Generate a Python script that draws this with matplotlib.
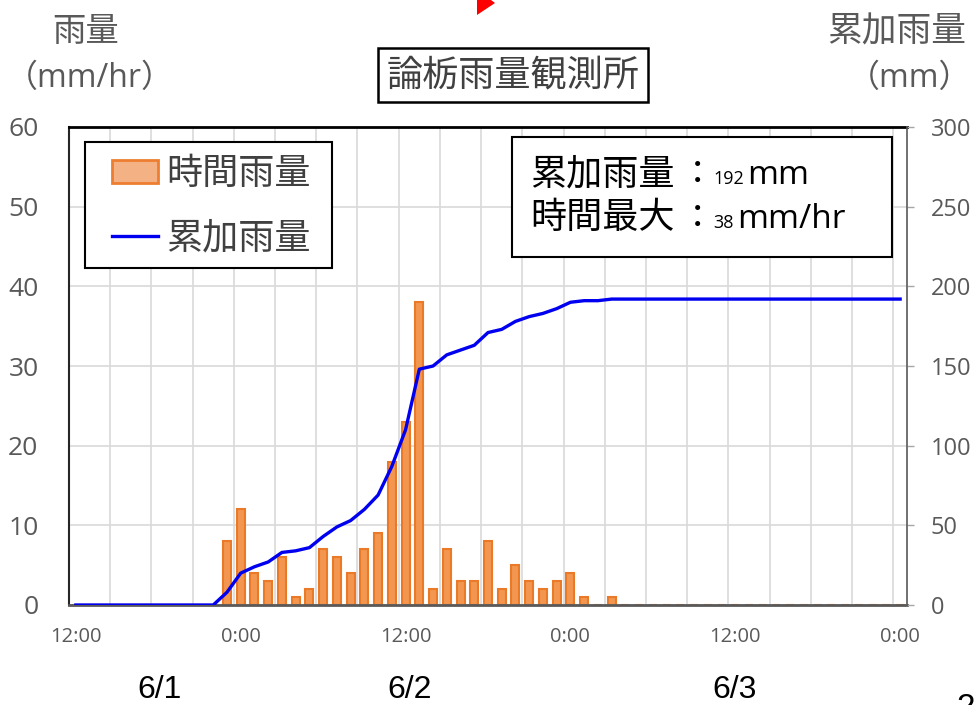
import numpy as np
import matplotlib
matplotlib.use("Agg")
import matplotlib.pyplot as plt
from matplotlib.patches import Rectangle, Polygon, Patch

plt.rcParams['font.family'] = ['Noto Sans CJK JP', 'DejaVu Sans']

# hourly data, hour 0 = 6/1 12:00 ... hour 60 = 6/4 0:00
rain_hourly = [
    0, 0, 0, 0, 0, 0, 0, 0, 0, 0, 0,           # 6/1 12:00 - 22:00
    8, 12, 4, 3, 6, 1, 2, 7, 6, 4, 7, 9,       # 23:00 - 10:00
    18, 23, 38, 2, 7, 3, 3, 8, 2, 5, 3, 2,     # 11:00 - 22:00
    3, 4, 1, 0, 1,                             # 23:00 - 3:00
    0, 0, 0, 0, 0, 0, 0, 0, 0, 0, 0, 0, 0, 0, 0, 0, 0, 0, 0, 0, 0,
]
hours = np.arange(len(rain_hourly))
rain_total = np.cumsum(rain_hourly)

xtick_pos = [0, 12, 24, 36, 48, 60]
xtick_labels = ["12:00", "0:00", "12:00", "0:00", "12:00", "0:00"]
date_labels = ["6/1", "6/2", "6/3"]
date_label_x = [160, 410, 735]   # pixel centres

W, H = 976, 705
gray = "#595959"
latin = ["Open Sans", "Noto Sans CJK JP", "DejaVu Sans"]


def fx(x):
    return x / W


def fy(y):
    return 1 - y / H


fig = plt.figure(figsize=(W / 100, H / 100), dpi=100)
ax = fig.add_axes([fx(69), fy(605), fx(907) - fx(69), fy(127) - fy(605)])
ax2 = ax.twinx()

bars = ax.bar(hours, rain_hourly, width=0.58, color="#F29650",
              edgecolor="#EB7A28", linewidth=1.5, zorder=2)
line, = ax2.plot(hours, rain_total, color="#0000F0", linewidth=2.4,
                 label="累加雨量", zorder=3)

ax.set_xlim(-0.5, 60.5)
ax.set_ylim(0, 60)
ax2.set_ylim(0, 300)
ax.set_yticks(range(0, 61, 10))
ax2.set_yticks(range(0, 301, 50))
ax.set_xticks(xtick_pos)
ax.set_xticklabels(xtick_labels)
ax.set_xticks(np.arange(2.5, 60, 3), minor=True)

ax.set_axisbelow(True)
ax.grid(axis="y", which="major", color="#D9D9D9", linewidth=1.2)
ax.grid(axis="x", which="minor", color="#D9D9D9", linewidth=1.2)

ax.tick_params(axis="x", which="both", length=0, pad=16, labelsize=14.5,
               labelcolor=gray)
ax.tick_params(axis="y", length=0, pad=22, labelsize=19, labelcolor=gray)
ax2.tick_params(axis="y", length=5, width=1, color="#A6A6A6", pad=12,
                labelsize=17, labelcolor=gray)
for lab in ax.get_xticklabels() + ax.get_yticklabels() + ax2.get_yticklabels():
    lab.set_family(latin)

for a in (ax, ax2):
    for s in a.spines.values():
        s.set_visible(False)
ax.spines["top"].set_visible(True)
ax.spines["top"].set_color("black")
ax.spines["top"].set_linewidth(2)
ax.spines["left"].set_visible(True)
ax.spines["left"].set_color("#262626")
ax.spines["left"].set_linewidth(1.5)
ax.spines["bottom"].set_visible(True)
ax.spines["bottom"].set_color(gray)
ax.spines["bottom"].set_linewidth(2)
ax2.spines["right"].set_visible(True)
ax2.spines["right"].set_color("#595959")
ax2.spines["right"].set_linewidth(1.2)

# legend: frame drawn as its own rectangle, entries placed inside it
ax2.add_patch(Rectangle((fx(85), fy(268)), fx(332) - fx(85), fy(142) - fy(268),
                        transform=fig.transFigure, facecolor="white",
                        edgecolor="black", linewidth=1.5, zorder=4,
                        clip_on=False))
bar_key = Patch(facecolor="#F4B183", edgecolor="#ED7D31", linewidth=2,
                label="時間雨量")
leg = ax2.legend(handles=[bar_key, line], loc="upper left",
                 bbox_to_anchor=(fx(112), fy(156)),
                 bbox_transform=fig.transFigure,
                 fontsize=26, frameon=False,
                 handlelength=1.28, handleheight=0.6, handletextpad=0.22,
                 labelspacing=0.78, borderpad=0, borderaxespad=0)
leg.set_zorder(5)
for t in leg.get_texts():
    t.set_color("#404040")

# summary box
fig.patches.append(Rectangle((fx(512), fy(257)), fx(892) - fx(512), fy(137) - fy(257),
                             transform=fig.transFigure, facecolor="white",
                             edgecolor="black", linewidth=1.5, zorder=5))
for y, head, num, unit in [(184, "累加雨量", "192", "mm"),
                           (228, "時間最大", "38", "mm/hr")]:
    fig.text(fx(530), fy(y), head, fontsize=26, va="baseline", ha="left",
             color="black", zorder=6)
    fig.text(fx(698), fy(y), "：", fontsize=24, va="baseline", ha="center",
             color="black", zorder=6)
    fig.text(fx(713), fy(y), num, fontsize=13, va="baseline",
             ha="left", color="black", zorder=6, family=latin)
    x_unit = 713 + (32 if len(num) == 3 else 22) + 2
    fig.text(fx(x_unit), fy(y), unit, fontsize=24, va="baseline", ha="left",
             color="black", zorder=6, family=latin)

# title box
fig.text(fx(513), fy(75), "論栃雨量観測所", fontsize=26, ha="center", va="center",
         color="#404040",
         bbox=dict(boxstyle="square,pad=0.25", facecolor="white",
                   edgecolor="black", linewidth=1.8))

# axis titles
fig.text(fx(86), fy(32), "雨量", fontsize=24, ha="center", va="center", color=gray)
fig.text(fx(90), fy(78), "（mm/hr）", fontsize=23, ha="center", va="center",
         color=gray, family=latin)
fig.text(fx(897), fy(32), "累加雨量", fontsize=25, ha="center", va="center", color=gray)
fig.text(fx(910), fy(78), "（mm）", fontsize=23, ha="center", va="center",
         color=gray, family=latin)

# dates under the axis
for x, lab in zip(date_label_x, date_labels):
    fig.text(fx(x), fy(690), lab, fontsize=23, ha="center", va="center",
             color="black", family=["Liberation Sans", "DejaVu Sans"])
fig.text(fx(966), fy(693), "2", fontsize=24, ha="center", va="top",
         color="black", family=["Liberation Sans", "DejaVu Sans"])

# red pointer at the top
fig.patches.append(Polygon([(fx(477), fy(0)), (fx(491), fy(0)), (fx(495), fy(3)),
                            (fx(477), fy(15))], closed=True,
                           transform=fig.transFigure, facecolor="red",
                           edgecolor="none"))

fig.savefig("out.png", dpi=100)
